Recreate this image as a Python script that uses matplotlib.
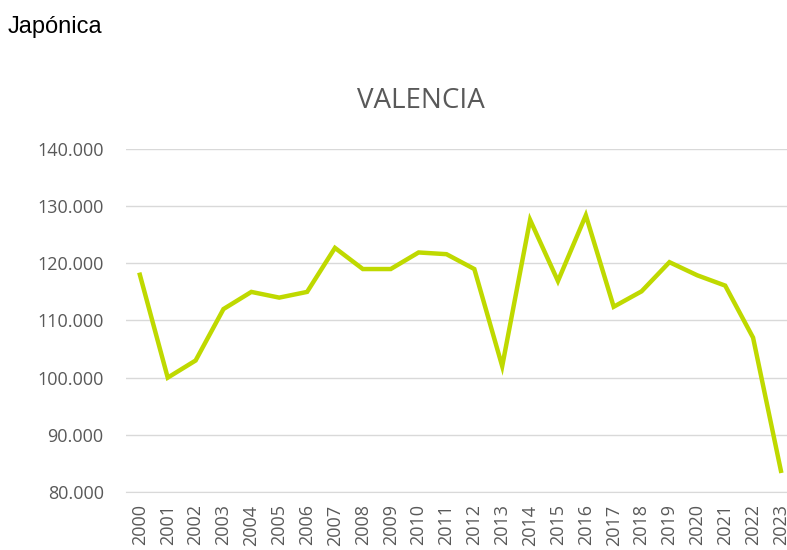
import matplotlib.pyplot as plt
from matplotlib.ticker import FuncFormatter

years = [str(y) for y in range(2000, 2024)]
valencia = [118.0, 100.0, 103.0, 112.0, 115.0, 114.0, 115.0, 122.7, 119.0, 119.0,
            121.9, 121.6, 119.0, 102.0, 127.6, 116.9, 128.4, 112.4, 115.1, 120.2,
            117.9, 116.1, 107.0, 83.7]
valencia = [v * 1000 for v in valencia]

grey = "#595959"

fig = plt.figure(figsize=(7.87, 5.5), dpi=100)
ax = fig.add_axes([0.160, 0.1055, 0.850, 0.6236])

x = range(len(years))
ax.plot(x, valencia, color="#BFD900", linewidth=3.2, solid_joinstyle="miter")

ax.set_xlim(-0.5, len(years) - 0.5)
ax.set_ylim(80000, 140000)
ax.set_yticks(range(80000, 140001, 10000))
ax.yaxis.set_major_formatter(FuncFormatter(lambda v, p: f"{int(v):,}".replace(",", ".")))
ax.set_xticks(list(x))
ax.set_xticklabels(years, rotation=90)

ax.grid(axis="y", color="#D9D9D9", linewidth=1)
ax.set_axisbelow(True)
for s in ax.spines.values():
    s.set_visible(False)
ax.spines["bottom"].set_visible(True)
ax.spines["bottom"].set_color("#D9D9D9")
ax.tick_params(length=0, colors=grey, labelsize=13)
ax.tick_params(axis="y", pad=16)
ax.tick_params(axis="x", pad=9)
for lab in ax.get_xticklabels() + ax.get_yticklabels():
    lab.set_fontfamily("Open Sans")

fig.text(0.535, 0.816, "VALENCIA", ha="center", va="center",
         fontsize=20, color=grey, fontfamily="Open Sans")
fig.text(0.010, 0.951, "Japónica", ha="left", va="center",
         fontsize=17, color="black", fontfamily="Liberation Sans")

fig.savefig("out.png", dpi=100)
